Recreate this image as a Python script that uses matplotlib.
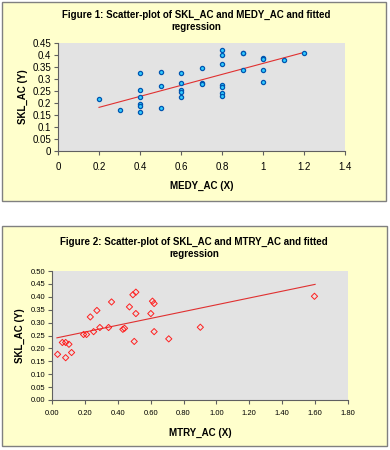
import numpy as np
import matplotlib
matplotlib.use('Agg')
import matplotlib.pyplot as plt
from matplotlib.patches import Rectangle

plt.rcParams['font.family'] = ['Liberation Sans', 'DejaVu Sans']

# figure 1 data
medy_x = [0.2, 0.3, 0.4, 0.4, 0.4, 0.4, 0.4, 0.4, 0.5, 0.5, 0.5,
          0.6, 0.6, 0.6, 0.6, 0.6, 0.7, 0.7, 0.7,
          0.8, 0.8, 0.8, 0.8, 0.8, 0.8, 0.8, 0.9, 0.9, 0.9,
          1.0, 1.0, 1.0, 1.0, 1.1, 1.2]
medy_y = [0.217, 0.169, 0.323, 0.254, 0.226, 0.194, 0.187, 0.163, 0.330, 0.269, 0.178,
          0.326, 0.284, 0.256, 0.247, 0.226, 0.347, 0.284, 0.280,
          0.419, 0.398, 0.362, 0.274, 0.267, 0.242, 0.228, 0.410, 0.407, 0.337,
          0.389, 0.383, 0.337, 0.287, 0.378, 0.407]
fit1 = [0.229, 0.136]  # slope, intercept
fit1_range = [0.2, 1.2]

# figure 2 data
mtry_x = [0.034, 0.063, 0.083, 0.083, 0.103, 0.119, 0.192, 0.210, 0.233, 0.253,
          0.273, 0.291, 0.344, 0.362, 0.431, 0.441, 0.471, 0.492, 0.510, 0.500,
          0.510, 0.601, 0.611, 0.621, 0.621, 0.710, 0.902, 1.596]
mtry_y = [0.177, 0.223, 0.223, 0.164, 0.216, 0.184, 0.254, 0.254, 0.322, 0.265,
          0.347, 0.281, 0.281, 0.380, 0.274, 0.278, 0.361, 0.408, 0.418, 0.227,
          0.335, 0.335, 0.383, 0.374, 0.265, 0.237, 0.282, 0.402]
fit2 = [0.132, 0.237]
fit2_range = [0.03, 1.60]

W, H = 390, 450
fig = plt.figure(figsize=(3.9, 4.5), dpi=100)

def box(x0, y0, x1, y1):
    fig.patches.append(Rectangle((x0 / W, 1 - y1 / H), (x1 - x0) / W, (y1 - y0) / H,
                                 transform=fig.transFigure, facecolor='#FFFFCC',
                                 edgecolor='#808080', linewidth=1.0, zorder=-5))

def axes(l, t, r, b):
    ax = fig.add_axes([l / W, 1 - b / H, (r - l) / W, (b - t) / H])
    ax.set_facecolor('#E3E3E3')
    for s in ['top', 'right']:
        ax.spines[s].set_visible(False)
    for s in ['left', 'bottom']:
        ax.spines[s].set_color('#606060')
        ax.spines[s].set_linewidth(0.8)
    ax.tick_params(length=3, width=0.8, color='#606060', pad=2)
    return ax

box(2, 2, 386, 201)
box(2, 226, 387, 446)

ax1 = axes(58, 43, 345, 151)
ax1.scatter(medy_x, medy_y, s=9, marker='o', facecolor='#33CCFF',
            edgecolor='#0055B0', linewidth=0.9, zorder=3)
xx = np.array(fit1_range)
ax1.plot(xx, fit1[0] * xx + fit1[1], color='#E03030', linewidth=0.8, zorder=2)
ax1.set_xlim(0, 1.4)
ax1.set_ylim(0, 0.45)
ax1.set_xticks(np.arange(0, 1.41, 0.2))
ax1.set_xticklabels(['0', '0.2', '0.4', '0.6', '0.8', '1', '1.2', '1.4'])
ax1.set_yticks(np.arange(0, 0.451, 0.05))
ax1.set_yticklabels(['0', '0.05', '0.1', '0.15', '0.2', '0.25', '0.3', '0.35', '0.4', '0.45'])
ax1.tick_params(labelsize=7)
ax1.tick_params(axis='x', pad=5)
ax1.set_xlabel('MEDY_AC (X)', fontsize=7, fontweight='bold', labelpad=6)
ax1.set_ylabel('SKL_AC (Y)', fontsize=7, fontweight='bold', labelpad=3)
fig.text(196 / W, 1 - 21 / H, 'Figure 1: Scatter-plot of SKL_AC and MEDY_AC and fitted\nregression',
         ha='center', va='center', fontsize=7, fontweight='bold', linespacing=1.3)

ax2 = axes(52, 271, 348, 400)
ax2.scatter(mtry_x, mtry_y, s=10, marker='D', facecolor='none',
            edgecolor='#FF2020', linewidth=0.7, zorder=3)
xx = np.array(fit2_range)
ax2.plot(xx, fit2[0] * xx + fit2[1], color='#E03030', linewidth=0.8, zorder=2)
ax2.set_xlim(0, 1.8)
ax2.set_ylim(0, 0.5)
ax2.set_xticks(np.arange(0, 1.81, 0.2))
ax2.set_xticklabels(['%.2f' % v for v in np.arange(0, 1.81, 0.2)])
ax2.set_yticks(np.arange(0, 0.501, 0.05))
ax2.set_yticklabels(['%.2f' % v for v in np.arange(0, 0.501, 0.05)])
ax2.tick_params(labelsize=5.5)
ax2.tick_params(axis='x', pad=4)
ax2.set_xlabel('MTRY_AC (X)', fontsize=7, fontweight='bold', labelpad=8)
ax2.set_ylabel('SKL_AC (Y)', fontsize=7, fontweight='bold', labelpad=4)
fig.text(194 / W, 1 - 248 / H, 'Figure 2: Scatter-plot of SKL_AC and MTRY_AC and fitted\nregression',
         ha='center', va='center', fontsize=7, fontweight='bold', linespacing=1.3)

fig.savefig('out.png', dpi=100)
